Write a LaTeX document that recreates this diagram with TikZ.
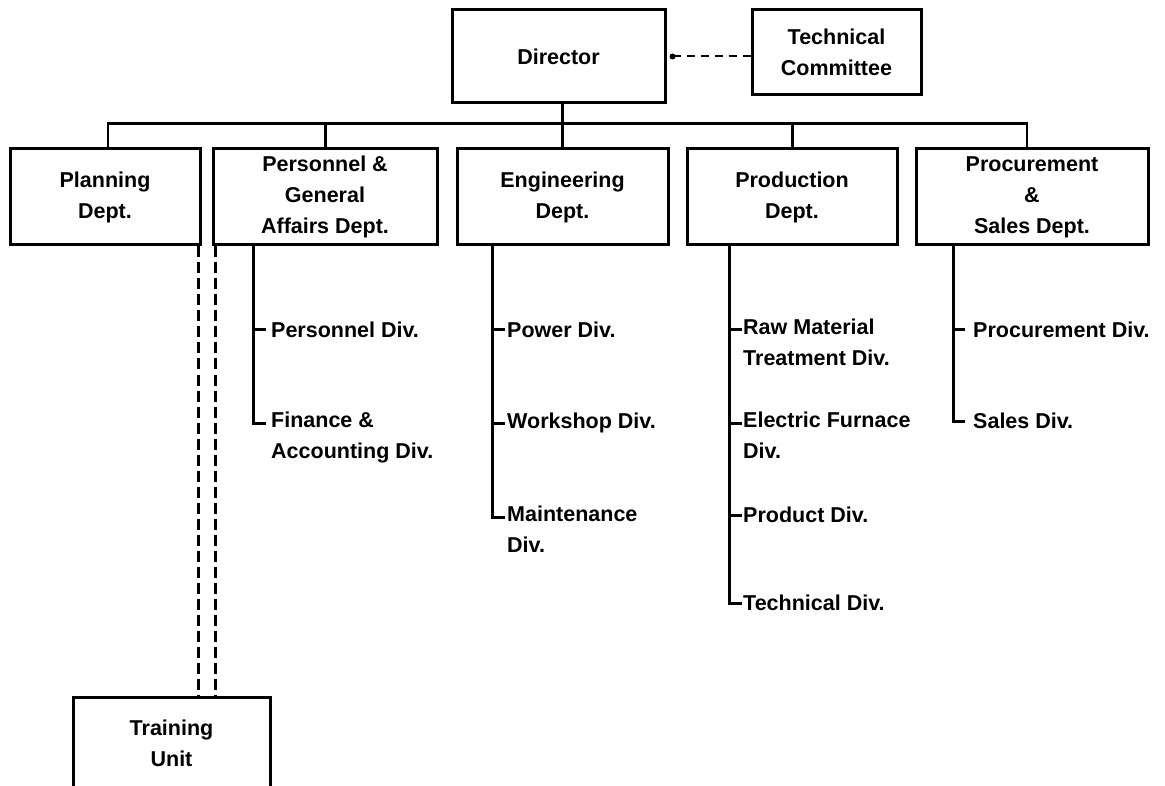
\documentclass[tikz,border=0pt]{standalone}
\usepackage{fontspec}
\setmainfont{Liberation Sans}
\begin{document}
\begin{tikzpicture}[x=1pt,y=-1pt,
  txt/.style={font=\fontsize{21.5}{31}\selectfont\bfseries},
  box/.style={draw, line width=3pt, inner sep=0pt, align=center, txt},
  lbl/.style={anchor=west, inner sep=0pt, txt},
  lbltwo/.style={anchor=north west, inner sep=0pt, align=left, txt},
  conn/.style={line width=3pt},
  busline/.style={line width=2.4pt},
  dashconn/.style={line width=3pt, dash pattern=on 11pt off 5pt},
  tcdash/.style={line width=2pt, dash pattern=on 8pt off 6pt}
]
\useasboundingbox (0,0) rectangle (1165,786);

% top level
\node[box, minimum width=213pt, minimum height=93pt] (Director) at (558.5,56.5) {Director};
\node[box, minimum width=169pt, minimum height=85pt] (TC) at (836.5,52.5) {Technical\\Committee};

% departments
\node[box, minimum width=190pt, minimum height=96pt] (Planning) at (105,197) {Planning\\Dept.};
\node[box, minimum width=224pt, minimum height=96pt] (Personnel) at (325,197) {Personnel \&\\General\\Affairs Dept.};
\node[box, minimum width=211pt, minimum height=96pt] (Engineering) at (562.5,197) {Engineering\\Dept.};
\node[box, minimum width=210pt, minimum height=96pt] (Production) at (792,197) {Production\\Dept.};
\node[box, minimum width=232pt, minimum height=96pt] (Procurement) at (1032,197) {Procurement\\\&\\Sales Dept.};

% training unit
\node[box, minimum width=197pt, minimum height=92pt] (Training) at (171.5,743) {Training\\Unit};

% director to committee
\fill ([xshift=6pt]Director.east) circle (3pt);
\draw[tcdash] ([xshift=6pt]Director.east) -- (Director.east -| TC.west);

% bus
\draw[conn] (Director.south -| Engineering.north) -- (Engineering.north);
\draw[busline] ([xshift=3pt]Planning.north) -- ++(0,-24) -| ([xshift=-5pt]Procurement.north);
\draw[conn] (Personnel.north) -- ++(0,-24);
\draw[conn] (Production.north) -- ++(0,-24);

% dashed lines to training unit
\coordinate (dA) at (198,0);
\coordinate (dB) at (215,0);
\draw[dashconn] (Planning.south -| dA) -- (Training.north -| dA);
\draw[dashconn] (Personnel.south -| dB) -- (Training.north -| dB);

% Personnel column
\coordinate (pa1) at (253,330);
\coordinate (pa2) at (253,423);
\draw[conn] (Personnel.south -| pa1) -- (pa2) -- ++(13,0);
\draw[conn] (pa1) -- ++(13,0);
\node[lbl] (persdiv) at (271,330) {Personnel Div.};
\node[lbltwo] (findiv) at (271,412) {Finance \&\\Accounting Div.};

% Engineering column
\coordinate (en1) at (492,330);
\coordinate (en2) at (492,423);
\coordinate (en3) at (492,517);
\draw[conn] (Engineering.south -| en1) -- (en3) -- ++(13,0);
\draw[conn] (en1) -- ++(13,0);
\draw[conn] (en2) -- ++(13,0);
\node[lbl] (powdiv) at (507,330) {Power Div.};
\node[lbl] (wkdiv) at (507,423) {Workshop Div.};
\node[lbltwo] (mndiv) at (507,506) {Maintenance\\Div.};

% Production column
\coordinate (pr1) at (729,330);
\coordinate (pr2) at (729,423);
\coordinate (pr3) at (729,515);
\coordinate (pr4) at (729,603);
\draw[conn] (Production.south -| pr1) -- (pr4) -- ++(13,0);
\draw[conn] (pr1) -- ++(13,0);
\draw[conn] (pr2) -- ++(13,0);
\draw[conn] (pr3) -- ++(13,0);
\node[lbltwo] (rawdiv) at (743,319) {Raw Material\\Treatment Div.};
\node[lbltwo] (efdiv) at (743,412) {Electric Furnace\\Div.};
\node[lbl] (proddiv) at (743,515) {Product Div.};
\node[lbl] (techdiv) at (743,603) {Technical Div.};

% Procurement column
\coordinate (pc1) at (953,330);
\coordinate (pc2) at (953,421);
\draw[conn] (Procurement.south -| pc1) -- (pc2) -- ++(12,0);
\draw[conn] (pc1) -- ++(12,0);
\node[lbl] (pcdiv) at (973,330) {Procurement Div.};
\node[lbl] (salesdiv) at (973,421) {Sales Div.};
\end{tikzpicture}
\end{document}
